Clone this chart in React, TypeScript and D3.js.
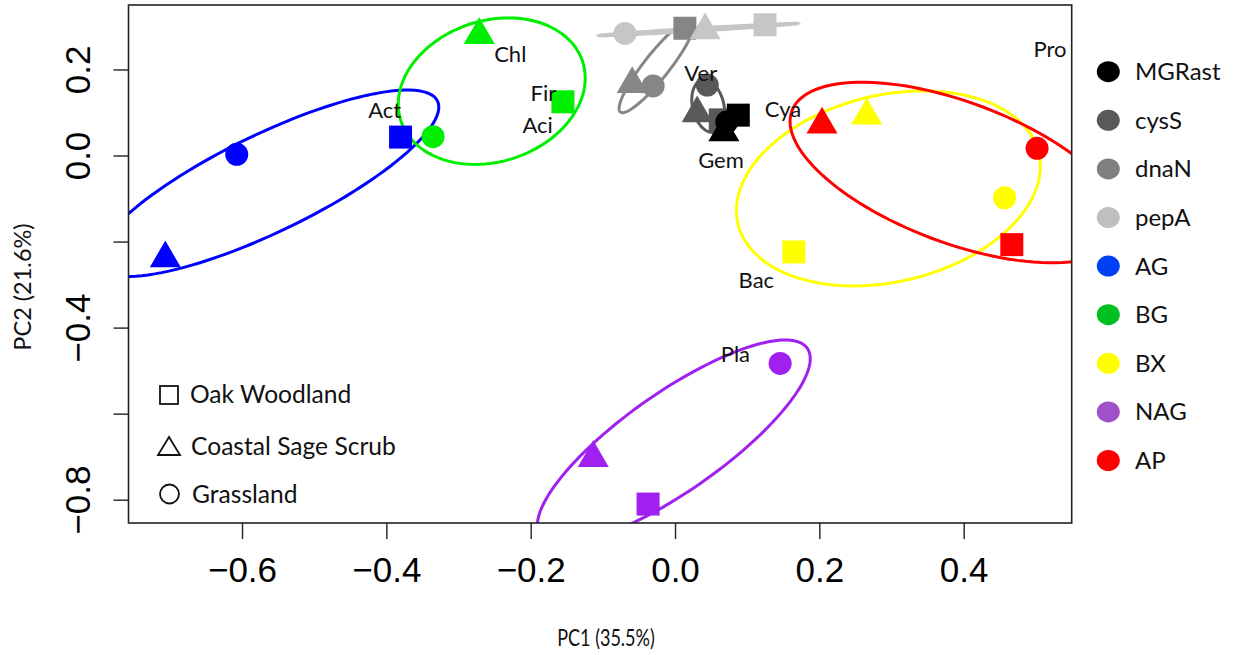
import React from "react";
import * as d3 from "d3";

// Gene / site groups, in legend order
const groups = ["MGRast", "cysS", "dnaN", "pepA", "AG", "BG", "BX", "NAG", "AP"];
const groupColors = ["#000000", "#595959", "#868686", "#c6c6c6", "#0000ff", "#00ee00", "#ffff00", "#a020f0", "#ff0000"];
const legendColors = ["#000000", "#595959", "#7f7f7f", "#bfbfbf", "#0040f4", "#00c020", "#ffff00", "#a050c8", "#ff0000"];

// Habitat shapes
const habitats = ["Oak Woodland", "Coastal Sage Scrub", "Grassland"];

// PCA scores per habitat, one value per group (legend order)
const woodlandPC1 = [0.087, 0.062, 0.013, 0.124, -0.381, -0.156, 0.164, -0.038, 0.466];
const woodlandPC2 = [0.095, 0.084, 0.297, 0.305, 0.044, 0.126, -0.223, -0.809, -0.206];
const scrubPC1 = [0.067, 0.030, -0.060, 0.041, -0.707, -0.272, 0.265, -0.114, 0.203];
const scrubPC2 = [0.055, 0.099, 0.167, 0.292, -0.238, 0.281, 0.094, -0.702, 0.073];
const grassPC1 = [0.071, 0.044, -0.031, -0.070, -0.608, -0.336, 0.456, 0.145, 0.501];
const grassPC2 = [0.079, 0.165, 0.163, 0.285, 0.004, 0.045, -0.097, -0.482, 0.018];

// Taxon labels
const taxa = ["Chl", "Fir", "Aci", "Act", "Ver", "Gem", "Cya", "Bac", "Pro", "Pla"];
const taxaPC1 = [-0.229, -0.183, -0.191, -0.403, 0.035, 0.063, 0.149, 0.112, 0.519, 0.083];
const taxaPC2 = [0.236, 0.147, 0.072, 0.106, 0.192, -0.009, 0.109, -0.288, 0.248, -0.460];

// Axes
const xDomain = [-0.758, 0.549];
const yDomain = [-0.853, 0.351];
const xTicks = [-0.6, -0.4, -0.2, 0.0, 0.2, 0.4];
const yTicks = [-0.8, -0.6, -0.4, -0.2, 0.0, 0.2];
const yTickLabels = [-0.8, -0.4, 0.0, 0.2];
const xTitle = "PC1 (35.5%)";
const yTitle = "PC2 (21.6%)";

const ELLIPSE_SCALE = 1.42;

const W = 1235;
const H = 655;
const M = { left: 128.5, right: 1071.7, top: 5, bottom: 523 };

const fmt = (v: number) => {
  const s = Math.abs(v).toFixed(1);
  return v < -1e-9 ? "\u2212" + s : s;
};

function covarianceEllipse(pts: [number, number][], k: number, n = 120): [number, number][] {
  const m = pts.length;
  const mx = d3.mean(pts, (p) => p[0]) as number;
  const my = d3.mean(pts, (p) => p[1]) as number;
  let sxx = 0, syy = 0, sxy = 0;
  pts.forEach(([px, py]) => {
    sxx += (px - mx) ** 2;
    syy += (py - my) ** 2;
    sxy += (px - mx) * (py - my);
  });
  sxx /= m - 1;
  syy /= m - 1;
  sxy /= m - 1;
  const tr = sxx + syy;
  const det = sxx * syy - sxy * sxy;
  const disc = Math.sqrt(Math.max(tr * tr / 4 - det, 0));
  const l1 = tr / 2 + disc;
  const l2 = Math.max(tr / 2 - disc, 0);
  const a = 0.5 * Math.atan2(2 * sxy, sxx - syy);
  const ca = Math.cos(a), sa = Math.sin(a);
  const r1 = k * Math.sqrt(l1), r2 = k * Math.sqrt(l2);
  return d3.range(n).map((i) => {
    const t = (i / n) * 2 * Math.PI;
    const ex = r1 * Math.cos(t);
    const ey = r2 * Math.sin(t);
    return [mx + ex * ca - ey * sa, my + ex * sa + ey * ca];
  });
}

export default function App() {
  const x = d3.scaleLinear().domain(xDomain).range([M.left, M.right]);
  const y = d3.scaleLinear().domain(yDomain).range([M.bottom, M.top]);

  const line = d3
    .line<[number, number]>()
    .x((d) => x(d[0]))
    .y((d) => y(d[1]))
    .curve(d3.curveLinearClosed);

  const sq = 23;
  const triSide = 31;
  const triH = (triSide * Math.sqrt(3)) / 2;
  const triPath = (cx: number, cy: number) =>
    `M${cx},${cy - (2 * triH) / 3}L${cx + triSide / 2},${cy + triH / 3}L${cx - triSide / 2},${cy + triH / 3}Z`;

  // drawing order of point groups
  const drawOrder = [4, 5, 6, 7, 8, 1, 0, 2, 3];

  const labelFont = "Lato, 'Open Sans', sans-serif";
  const tickFont = "'Liberation Sans', Arial, sans-serif";

  const legendTop = 71.7;
  const legendStep = 48.6;

  return (
    <svg width={W} height={H} style={{ position: "absolute", left: 0, top: 0, background: "#fff" }}>
      <defs>
        <clipPath id="plot-area">
          <rect x={M.left} y={M.top} width={M.right - M.left} height={M.bottom - M.top} />
        </clipPath>
      </defs>

      {/* group ellipses */}
      <g clipPath="url(#plot-area)" fill="none" strokeWidth={3}>
        {groups.map((g, i) => {
          const pts: [number, number][] = [
            [woodlandPC1[i], woodlandPC2[i]],
            [scrubPC1[i], scrubPC2[i]],
            [grassPC1[i], grassPC2[i]],
          ];
          return <path key={g} d={line(covarianceEllipse(pts, ELLIPSE_SCALE)) || ""} stroke={groupColors[i]} />;
        })}
      </g>

      {/* points */}
      <g clipPath="url(#plot-area)">
        {drawOrder.map((i) => (
          <g key={groups[i]} fill={groupColors[i]}>
            <rect x={x(woodlandPC1[i]) - sq / 2} y={y(woodlandPC2[i]) - sq / 2} width={sq} height={sq} />
            <path d={triPath(x(scrubPC1[i]), y(scrubPC2[i]))} />
            <circle cx={x(grassPC1[i])} cy={y(grassPC2[i])} r={11.5} />
          </g>
        ))}
      </g>

      {/* taxon labels */}
      <g fontFamily={labelFont} fontSize={22} fill="#111" textAnchor="middle">
        {taxa.map((t, i) => (
          <text key={t} x={x(taxaPC1[i])} y={y(taxaPC2[i]) + 8}>
            {t}
          </text>
        ))}
      </g>

      {/* frame */}
      <rect
        x={M.left}
        y={M.top}
        width={M.right - M.left}
        height={M.bottom - M.top}
        fill="none"
        stroke="#222"
        strokeWidth={1.6}
      />

      {/* axis ticks */}
      <g stroke="#222" strokeWidth={1.4}>
        {xTicks.map((t) => (
          <line key={t} x1={x(t)} x2={x(t)} y1={M.bottom} y2={M.bottom + 16} />
        ))}
        {yTicks.map((t) => (
          <line key={t} x1={M.left - 15} x2={M.left} y1={y(t)} y2={y(t)} />
        ))}
      </g>
      <g fontFamily={tickFont} fontSize={35} fill="#000" textAnchor="middle">
        {xTicks.map((t) => (
          <text key={t} x={x(t)} y={582}>
            {fmt(t)}
          </text>
        ))}
        {yTickLabels.map((t) => (
          <text key={t} transform={`translate(90,${y(t)}) rotate(-90)`}>
            {fmt(t)}
          </text>
        ))}
      </g>

      {/* axis titles */}
      <text
        transform={`translate(606,646) scale(0.8,1.05)`}
        fontFamily={labelFont}
        fontSize={22.5}
        textAnchor="middle"
        fill="#111"
      >
        {xTitle}
      </text>
      <text
        transform={`translate(31,287) rotate(-90)`}
        fontFamily={labelFont}
        fontSize={23.5}
        textAnchor="middle"
        fill="#111"
      >
        {yTitle}
      </text>

      {/* habitat legend */}
      <g fontFamily={labelFont} fontSize={24.6} fill="#111">
        <rect x={160} y={386} width={18} height={18} fill="none" stroke="#111" strokeWidth={1.8} />
        <text x={190} y={403}>{habitats[0]}</text>
        <path d="M169,437L180,455L158,455Z" fill="none" stroke="#111" strokeWidth={1.8} strokeLinejoin="miter" />
        <text x={191} y={455}>{habitats[1]}</text>
        <circle cx={169.5} cy={494} r={9.5} fill="none" stroke="#111" strokeWidth={1.8} />
        <text x={192} y={503}>{habitats[2]}</text>
      </g>

      {/* group legend */}
      <g fontFamily={labelFont} fontSize={24} fill="#111">
        {groups.map((g, i) => (
          <g key={g}>
            <ellipse cx={1108.3} cy={legendTop + i * legendStep} rx={11.5} ry={10.5} fill={legendColors[i]} />
            <text x={1135} y={legendTop + i * legendStep + 8.5}>
              {g}
            </text>
          </g>
        ))}
      </g>
    </svg>
  );
}
